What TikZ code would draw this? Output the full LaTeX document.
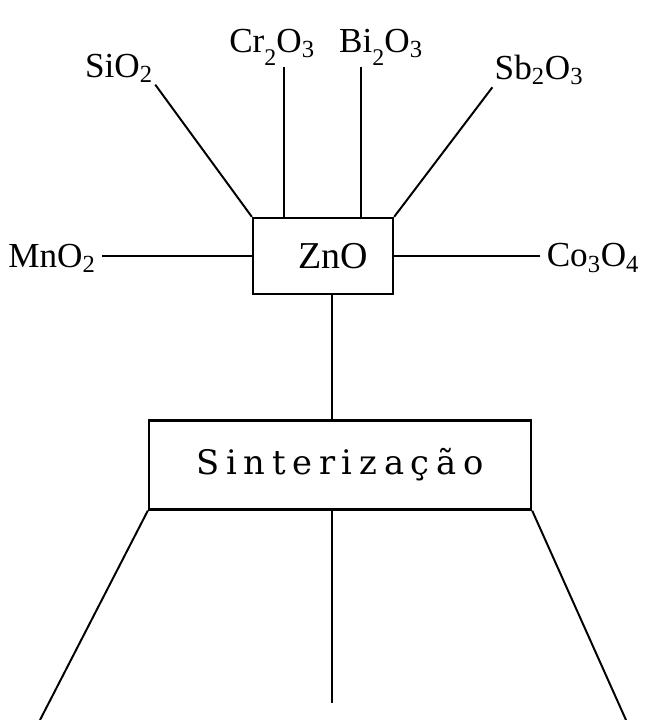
\documentclass[tikz,border=0pt]{standalone}
\usepackage{fontspec}
\setmainfont{Liberation Serif}
\newfontfamily\spacedfont[LetterSpace=20]{DejaVu Serif}
\newcommand\lowsub[1]{\raisebox{-0.8ex}{\fontsize{17}{17}\selectfont #1}}
\begin{document}
\begin{tikzpicture}[x=0.025cm,y=-0.025cm,line width=1.4pt,
  oxide/.style={font=\fontsize{25}{28}\selectfont,inner sep=1pt},
  box/.style={draw,line width=1.6pt,inner sep=0pt}]
\useasboundingbox (0,0) rectangle (645,720);
% central boxes
\node[box,minimum width=3.5cm,minimum height=1.9cm,font=\fontsize{27}{30}\selectfont] (zno) at (323,256) {\kern0.5cm ZnO};
\node[box,minimum width=9.55cm,minimum height=2.225cm,font=\spacedfont\fontsize{24}{28}\selectfont] (sint) at (340,465) {Sinterização};
% oxides
\node[oxide] (sio) at (119,68) {SiO\textsubscript{2}};
\node[oxide] (cro) at (272,47) {Cr\lowsub{2}O\textsubscript{3}};
\node[oxide] (bio) at (381,47) {Bi\lowsub{2}O\textsubscript{3}};
\node[oxide] (sbo) at (539,70) {Sb\textsubscript{2}O\textsubscript{3}};
\node[oxide] (mno) at (52,258) {MnO\textsubscript{2}};
\node[oxide] (coo) at (593,258) {Co\textsubscript{3}O\textsubscript{4}};
% connectors
\draw (sio.south east) -- (zno.north west);
\draw ([xshift=0.3cm]cro.south) -- ([xshift=0.3cm]cro.south |- zno.north);
\draw ([xshift=-0.5cm]bio.south) -- ([xshift=-0.5cm]bio.south |- zno.north);
\draw (sbo.south west) -- (zno.north east);
\draw ([xshift=3pt]mno.east |- zno.west) -- (zno.west);
\draw ([xshift=-3pt]coo.west |- zno.east) -- (zno.east);
\draw ([xshift=0.225cm]zno.south) -- ([xshift=0.225cm]zno.south |- sint.north);
% lower branches
\coordinate (bl) at (40,720);
\coordinate (bc) at (332,703);
\coordinate (br) at (626,720);
\draw (sint.south west) -- (bl);
\draw (bc |- sint.south) -- (bc);
\draw (sint.south east) -- (br);
\end{tikzpicture}
\end{document}
